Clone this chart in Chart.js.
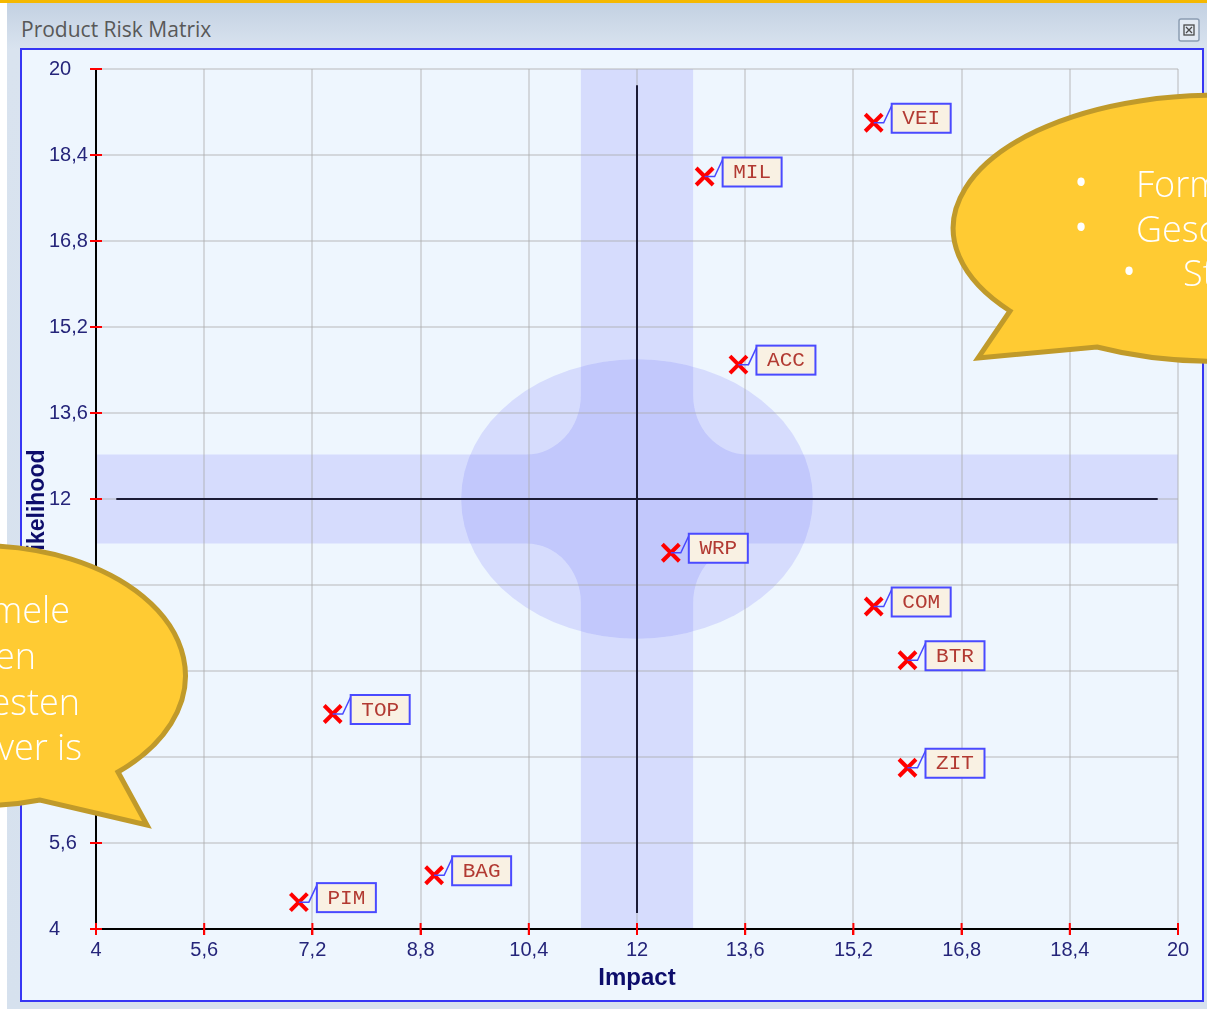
<!DOCTYPE html>
<html>
<head>
<meta charset="utf-8">
<title>Product Risk Matrix</title>
<script src="https://cdn.jsdelivr.net/npm/chart.js@4.4.1/dist/chart.umd.min.js"></script>
<style>
  body { margin: 0; background: #fff; width: 1207px; height: 1009px; overflow: hidden; position: relative; }
  #topline { position: absolute; left: 0; top: 0; width: 1207px; height: 3px; background: #f5b800; }
  #frame { position: absolute; left: 7px; top: 3px; width: 1200px; height: 1006px;
           background: linear-gradient(#c3d1e2 0px, #d9e3ef 46px, #d6e1ee 100%); }
  #caption { position: absolute; left: 14px; top: 12px; font: 21px "Open Sans", sans-serif; color: #585858; }
  #panel { position: absolute; left: 13px; top: 45px; width: 1180px; height: 950px;
           border: 2px solid #3636f4; background: #eef6fe; }
  #overlay { position: absolute; left: 0; top: 0; pointer-events: none; }
</style>
</head>
<body>
<div id="topline"></div>
<div id="frame">
  <div id="caption">Product Risk Matrix</div>
  <div id="panel"><canvas id="riskChart" width="1180" height="950"></canvas></div>
</div>
<svg id="overlay" width="1207" height="1009" xmlns="http://www.w3.org/2000/svg">
  <!-- close button of the window -->
  <rect x="1179" y="19" width="20" height="22" rx="2" fill="#e3eaf3" stroke="#8c9db3" stroke-width="1.5"/>
  <rect x="1184" y="25" width="10" height="10" fill="none" stroke="#4a4a4a" stroke-width="1.3"/>
  <path d="M1186 27 L1192 33 M1192 27 L1186 33" stroke="#4a4a4a" stroke-width="1.3"/>

  <!-- speech bubbles -->
  <path d="M1010 311 L978 358 L1097 347 A262 133 0 1 0 1010 311 Z" fill="#ffcb33" stroke="#c09a2a" stroke-width="5"/>
  <g font-family="Open Sans, sans-serif" font-weight="300" font-size="36" fill="#ffffff">
    <text x="1081" y="199" text-anchor="middle" font-size="48">•</text><text x="1136" y="197">Form</text>
    <text x="1081" y="244" text-anchor="middle" font-size="48">•</text><text x="1136" y="242">Gesc</text>
    <text x="1129" y="288" text-anchor="middle" font-size="48">•</text><text x="1183" y="286">St</text>
  </g>
  <path d="M118 772 L147 825 L40 800 A205 130 0 1 1 118 772 Z" fill="#ffcb33" stroke="#c09a2a" stroke-width="5"/>
  <g font-family="Open Sans, sans-serif" font-weight="300" font-size="36" fill="#ffffff" text-anchor="end">
    <text x="70" y="623">mele</text>
    <text x="36" y="669">en</text>
    <text x="80" y="715">esten</text>
    <text x="82" y="760">ver is</text>
  </g>
</svg>
<script>
// products on the matrix
const codes = ["VEI", "MIL", "ACC", "WRP", "COM", "BTR", "ZIT", "TOP", "BAG", "PIM"];
const impact = [15.5, 13, 13.5, 12.5, 15.5, 16, 16, 7.5, 9, 7];
const likelihood = [19, 18, 14.5, 11, 10, 9, 7, 8, 5, 4.5];

// axes
const axisTicks = [4, 5.6, 7.2, 8.8, 10.4, 12, 13.6, 15.2, 16.8, 18.4, 20];
const tickLabels = ["4", "5,6", "7,2", "8,8", "10,4", "12", "13,6", "15,2", "16,8", "18,4", "20"];

// centre cross and zone
const centre = 12;
const centreLineSpan = [4.3, 19.7];
const bandHalfWidth = 0.83;
const coreRadius = 2.6;
const filletX = 0.8;
const filletY = 1.1;

const tickColour = "#25257a";
const titleColour = "#0d0d6b";
const zoneColour = "rgba(92, 92, 250, 0.17)";

const riskZones = {
    id: "riskZones",
    beforeDraw(chart) {
        const { ctx, chartArea: a, scales: { x, y } } = chart;
        const xl = x.getPixelForValue(centre - bandHalfWidth);
        const xr = x.getPixelForValue(centre + bandHalfWidth);
        const yt = y.getPixelForValue(centre + bandHalfWidth);
        const yb = y.getPixelForValue(centre - bandHalfWidth);
        const rx = x.getPixelForValue(centre + filletX) - x.getPixelForValue(centre);
        const ry = y.getPixelForValue(centre) - y.getPixelForValue(centre + filletY);
        ctx.save();
        ctx.fillStyle = zoneColour;
        // cross with rounded inner corners
        ctx.beginPath();
        ctx.moveTo(xl, a.top);
        ctx.lineTo(xr, a.top);
        ctx.lineTo(xr, yt - ry);
        ctx.ellipse(xr + rx, yt - ry, rx, ry, 0, Math.PI, Math.PI / 2, true);
        ctx.lineTo(a.right, yt);
        ctx.lineTo(a.right, yb);
        ctx.lineTo(xr + rx, yb);
        ctx.ellipse(xr + rx, yb + ry, rx, ry, 0, -Math.PI / 2, -Math.PI, true);
        ctx.lineTo(xr, a.bottom);
        ctx.lineTo(xl, a.bottom);
        ctx.lineTo(xl, yb + ry);
        ctx.ellipse(xl - rx, yb + ry, rx, ry, 0, 0, -Math.PI / 2, true);
        ctx.lineTo(a.left, yb);
        ctx.lineTo(a.left, yt);
        ctx.lineTo(xl - rx, yt);
        ctx.ellipse(xl - rx, yt - ry, rx, ry, 0, Math.PI / 2, 0, true);
        ctx.closePath();
        ctx.fill();
        // core zone
        const cx = x.getPixelForValue(centre), cy = y.getPixelForValue(centre);
        const crx = x.getPixelForValue(centre + coreRadius) - cx;
        const cry = cy - y.getPixelForValue(centre + coreRadius);
        ctx.beginPath();
        ctx.ellipse(cx, cy, crx, cry, 0, 0, Math.PI * 2);
        ctx.fill();
        ctx.restore();
    },
    afterDraw(chart) {
        const { ctx, chartArea: a, scales: { x, y } } = chart;
        ctx.save();
        // red tick marks crossing the axes
        ctx.strokeStyle = "#ff0000";
        ctx.lineWidth = 2;
        ctx.beginPath();
        axisTicks.forEach(v => {
            const px = x.getPixelForValue(v);
            ctx.moveTo(px, a.bottom - 6);
            ctx.lineTo(px, a.bottom + 6);
            const py = y.getPixelForValue(v);
            ctx.moveTo(a.left - 6, py);
            ctx.lineTo(a.left + 6, py);
        });
        ctx.stroke();
        // vertical axis title
        ctx.translate(15.5, (a.top + a.bottom) / 2 + 8);
        ctx.rotate(-Math.PI / 2);
        ctx.font = "bold 23px 'Liberation Sans', Arial, sans-serif";
        ctx.fillStyle = titleColour;
        ctx.textAlign = "center";
        ctx.textBaseline = "middle";
        ctx.fillText("Likelihood", 0, 0);
        ctx.restore();
    }
};

const pointTags = {
    id: "pointTags",
    afterDatasetsDraw(chart) {
        const { ctx } = chart;
        const meta = chart.getDatasetMeta(0);
        ctx.save();
        meta.data.forEach((pt, i) => {
            const px = pt.x, py = pt.y;
            ctx.strokeStyle = "#4848ff";
            ctx.lineWidth = 1.5;
            ctx.beginPath();
            ctx.moveTo(px, py);
            ctx.lineTo(px + 10, py);
            ctx.lineTo(px + 18, py - 17);
            ctx.stroke();
            ctx.fillStyle = "#f9f1e3";
            ctx.fillRect(px + 18, py - 19, 59, 29);
            ctx.lineWidth = 2;
            ctx.strokeStyle = "#4a4aff";
            ctx.strokeRect(px + 18, py - 19, 59, 29);
            ctx.fillStyle = "#b23a32";
            ctx.font = "21px 'Liberation Mono', monospace";
            ctx.textAlign = "center";
            ctx.textBaseline = "middle";
            ctx.fillText(codes[i], px + 47.5, py - 4);
        });
        ctx.restore();
    }
};

const gridColour = "rgba(170, 170, 170, 0.4)";
const tickFont = { family: "'Liberation Sans', Arial, sans-serif", size: 20 };

const ctx = document.getElementById("riskChart").getContext("2d");
new Chart(ctx, {
    type: "scatter",
    data: {
        datasets: [
            {
                label: "Products",
                data: codes.map((c, i) => ({ x: impact[i], y: likelihood[i] })),
                pointStyle: "crossRot",
                pointRadius: 12,
                pointBorderWidth: 4,
                borderColor: "#ff0000",
                backgroundColor: "#ff0000",
                order: 0
            },
            {
                label: "Impact centre",
                type: "line",
                showLine: true,
                data: centreLineSpan.map(v => ({ x: v, y: centre })),
                borderColor: "#1b1b35",
                borderWidth: 2,
                pointRadius: 0,
                order: 1
            },
            {
                label: "Likelihood centre",
                type: "line",
                showLine: true,
                data: centreLineSpan.map(v => ({ x: centre, y: v })),
                borderColor: "#1b1b35",
                borderWidth: 2,
                pointRadius: 0,
                order: 1
            }
        ]
    },
    options: {
        animation: false,
        responsive: false,
        layout: { padding: { left: 27, top: 19, right: 24, bottom: 0 } },
        plugins: { legend: { display: false }, tooltip: { enabled: false } },
        scales: {
            x: {
                type: "linear", min: 4, max: 20,
                afterBuildTicks: s => { s.ticks = axisTicks.map(v => ({ value: v })); },
                afterFit: s => { s.height = 71; },
                ticks: { callback: (v, i) => tickLabels[i], padding: 3, color: tickColour, font: tickFont, maxRotation: 0, autoSkip: false },
                grid: { color: gridColour, lineWidth: 2, tickLength: 6, tickColor: "#ff0000", tickWidth: 2 },
                border: { color: "#000000", width: 2 },
                title: { display: true, text: "Impact", color: titleColour, padding: { top: 0, bottom: 7 },
                         font: { family: "'Liberation Sans', Arial, sans-serif", size: 24, weight: "bold" } }
            },
            y: {
                type: "linear", min: 4, max: 20,
                afterBuildTicks: s => { s.ticks = axisTicks.map(v => ({ value: v })); },
                afterFit: s => { s.width = 47; },
                ticks: { callback: (v, i) => tickLabels[i], crossAlign: "far", color: tickColour, font: tickFont, autoSkip: false },
                grid: { color: gridColour, lineWidth: 2, tickLength: 6, tickColor: "#ff0000", tickWidth: 2 },
                border: { color: "#000000", width: 2 }
            }
        }
    },
    plugins: [riskZones, pointTags]
});
</script>
</body>
</html>
